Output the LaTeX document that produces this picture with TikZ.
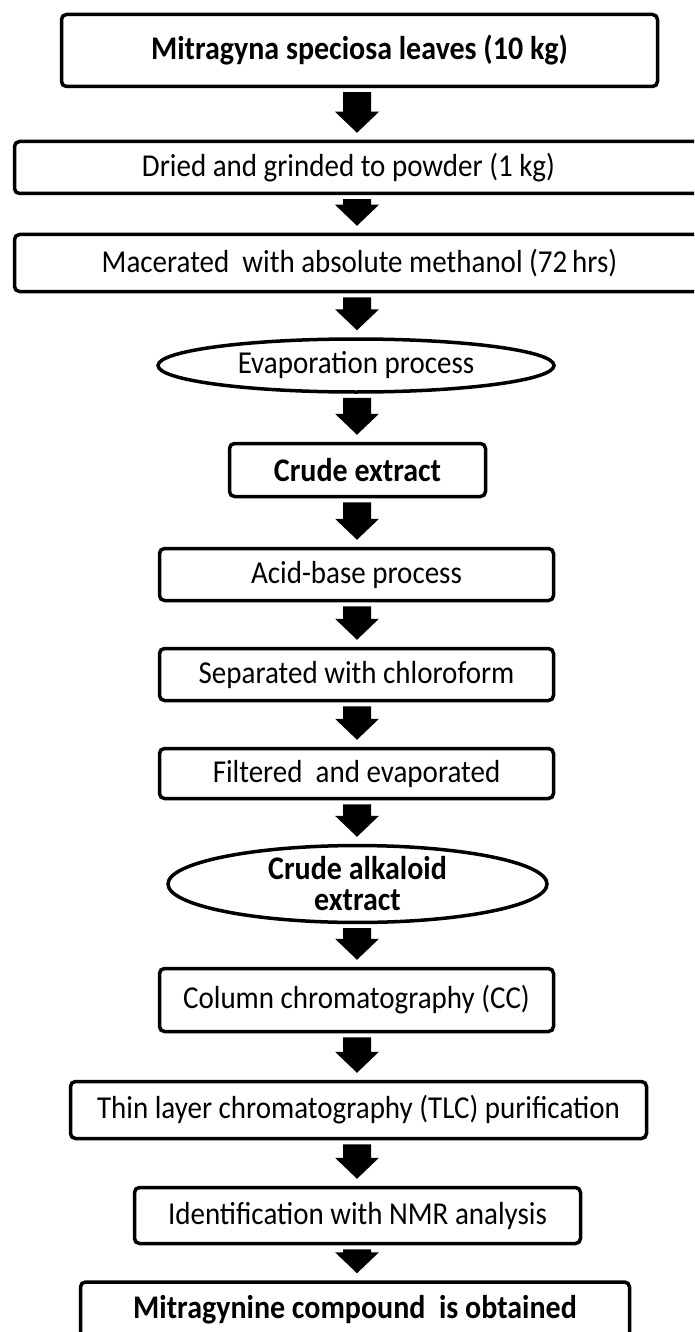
\documentclass[tikz,border=0pt]{standalone}
\usepackage{fontspec}
\usepackage{graphicx}
\setmainfont{Carlito}
\usetikzlibrary{shapes.geometric,calc}
\newcommand\tall[1]{\scalebox{1}[1.1]{#1}}
\tikzset{
  txt/.style={font=\fontsize{29}{31}\selectfont},
  btxt/.style={font=\fontsize{30}{31}\selectfont\bfseries},
  stepbox/.style 2 args={draw, line width=3.5pt, rounded corners=5pt, inner sep=0pt,
    align=center, minimum width=#1, minimum height=#2},
  stepoval/.style 2 args={draw, ellipse, line width=3.5pt, inner sep=0pt,
    align=center, minimum width=#1, minimum height=#2},
}
\newcommand\blockarrow[2]{%
  \fill ($(#1.south -| col)+(-14pt,-4pt)$) -- ($(#1.south -| col)+(14pt,-4pt)$)
    -- ($(#2.north -| col)+(14pt,28pt)$) -- ($(#2.north -| col)+(22pt,28pt)$)
    -- ($(#2.north -| col)+(0pt,7pt)$) -- ($(#2.north -| col)+(-22pt,28pt)$)
    -- ($(#2.north -| col)+(-14pt,28pt)$) -- cycle;}
\begin{document}
\begin{tikzpicture}[x=1pt,y=1pt]
\clip (0,0) rectangle (694,-1332);
\fill[white] (0,0) rectangle (694,-1332);
\coordinate (col) at (357,0);
\node[stepbox={596pt}{72pt}, btxt] (n1) at (359.5,-50.5) {\tall{Mitragyna speciosa leaves (10 kg)}};
\node[stepbox={690pt}{52pt}, txt] (n2) at (359.5,-167.5) {\tall{Dried and grinded to powder (1 kg)}\hspace*{22pt}};
\node[stepbox={690pt}{57pt}, txt] (n3) at (359.5,-263) {\tall{Macerated\ \ with absolute methanol (72\,hrs)}};
\node[stepoval={396pt}{53pt}, txt] (n4) at (356,-365.5) {\tall{Evaporation process}};
\node[stepbox={256pt}{53pt}, btxt] (n5) at (357.5,-470) {\tall{Crude extract}};
\node[stepbox={394pt}{52pt}, txt] (n6) at (356.5,-574.5) {\tall{Acid-base process}};
\node[stepbox={394pt}{52pt}, txt] (n7) at (356.5,-674.5) {\tall{Separated with chloroform}};
\node[stepbox={394pt}{50pt}, txt] (n8) at (356.5,-773.5) {\tall{Filtered\ \ and evaporated}};
\node[stepoval={379pt}{70pt}, btxt] (n9) at (357.5,-884) {\tall{Crude alkaloid}\\\tall{extract}};
\node[stepbox={394pt}{63pt}, txt] (n10) at (356.5,-1000) {\tall{Column chromatography (CC)}};
\node[stepbox={576pt}{57pt}, txt] (n11) at (358.5,-1110) {\tall{Thin layer chromatography (TLC) purification}};
\node[stepbox={446pt}{56pt}, txt] (n12) at (357.5,-1215.5) {\tall{Identification with NMR analysis}};
\node[stepbox={549pt}{58pt}, btxt] (n13) at (355,-1311) {\raisebox{8pt}{\tall{Mitragynine compound\ \ is obtained}}};
\blockarrow{n1}{n2}
\blockarrow{n2}{n3}
\blockarrow{n3}{n4}
\blockarrow{n4}{n5}
\blockarrow{n5}{n6}
\blockarrow{n6}{n7}
\blockarrow{n7}{n8}
\blockarrow{n8}{n9}
\blockarrow{n9}{n10}
\blockarrow{n10}{n11}
\blockarrow{n11}{n12}
\blockarrow{n12}{n13}
\end{tikzpicture}
\end{document}
